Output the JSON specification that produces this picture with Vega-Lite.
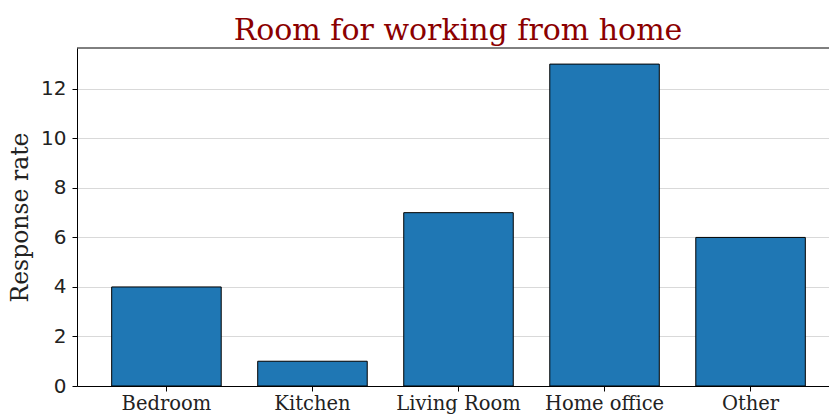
{
  "$schema": "https://vega.github.io/schema/vega-lite/v6.json",
  "autosize": "none",
  "width": 752,
  "height": 338,
  "padding": {"left": 77, "top": 48, "right": 0, "bottom": 28},
  "background": "white",
  "title": {
    "text": "Room for working from home",
    "font": "DejaVu Serif",
    "fontSize": 30,
    "fontWeight": "normal",
    "color": "#8b0000",
    "anchor": "middle",
    "dx": 5,
    "offset": 2
  },
  "config": {
    "view": {"stroke": null}
  },
  "data": {
    "values": [
      {"room": "Bedroom", "rate": 4},
      {"room": "Kitchen", "rate": 1},
      {"room": "Living Room", "rate": 7},
      {"room": "Home office", "rate": 13},
      {"room": "Other", "rate": 6}
    ]
  },
  "layer": [
    {
      "mark": {"type": "bar", "color": "#1f77b4", "stroke": "black", "strokeWidth": 1},
      "encoding": {
        "x": {
          "field": "room",
          "type": "nominal",
          "sort": null,
          "scale": {"range": [0, 763], "paddingInner": 0.25, "paddingOuter": 0.2375},
          "axis": {
            "title": null,
            "labelAngle": 0,
            "labelFont": "DejaVu Serif",
            "labelFontSize": 19.5,
            "labelColor": "#222222",
            "labelPadding": 3,
            "tickSize": 5,
            "tickColor": "black",
            "domainColor": "black",
            "domainWidth": 1
          }
        },
        "y": {
          "field": "rate",
          "type": "quantitative",
          "scale": {"domain": [0, 13.65], "nice": false},
          "axis": {
            "title": "Response rate",
            "titleFont": "DejaVu Serif",
            "titleFontSize": 23.5,
            "titleFontWeight": "normal",
            "titleColor": "#222222",
            "titlePadding": 8,
            "values": [0, 2, 4, 6, 8, 10, 12],
            "labelFont": "DejaVu Sans",
            "labelFontSize": 20,
            "labelColor": "#222222",
            "labelPadding": 6,
            "tickSize": 5,
            "tickColor": "black",
            "domainColor": "black",
            "domainWidth": 1,
            "grid": true,
            "gridColor": "#d9d9d9",
            "gridWidth": 1
          }
        }
      }
    },
    {
      "data": {"values": [{"top": 13.65}]},
      "mark": {"type": "rule", "color": "black", "strokeWidth": 1},
      "encoding": {"y": {"field": "top", "type": "quantitative"}}
    }
  ]
}
